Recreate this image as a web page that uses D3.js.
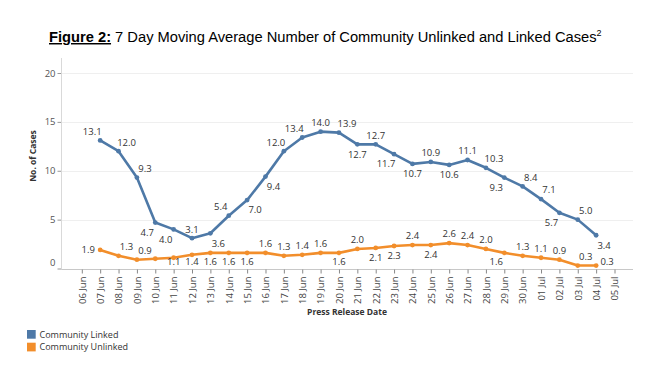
<!DOCTYPE html>
<html><head><meta charset="utf-8">
<script src="https://cdn.jsdelivr.net/npm/d3@7"></script>
<style>
body{margin:0;background:#fff;}
svg{display:block;}
</style></head>
<body>
<svg id="chart" width="651" height="377"></svg>
<script>
const categories = ["06 Jun","07 Jun","08 Jun","09 Jun","10 Jun","11 Jun","12 Jun","13 Jun","14 Jun","15 Jun","16 Jun","17 Jun","18 Jun","19 Jun","20 Jun","21 Jun","22 Jun","23 Jun","24 Jun","25 Jun","26 Jun","27 Jun","28 Jun","29 Jun","30 Jun","01 Jul","02 Jul","03 Jul","04 Jul","05 Jul"];
const dataDates = categories.slice(1, 29);
const linked = [13.1,12.0,9.3,4.7,4.0,3.1,3.6,5.4,7.0,9.4,12.0,13.4,14.0,13.9,12.7,12.7,11.7,10.7,10.9,10.6,11.1,10.3,9.3,8.4,7.1,5.7,5.0,3.4];
const unlinked = [1.9,1.3,0.9,1.0,1.1,1.4,1.6,1.6,1.6,1.6,1.3,1.4,1.6,1.6,2.0,2.1,2.3,2.4,2.4,2.6,2.4,2.0,1.6,1.3,1.1,0.9,0.3,0.3];
const linkedLabelPos = ["tl","tr","tr","bl","bl","t","br","tl","br","br","tl","tl","t","tr","b","t","bl","b","t","b","t","tr","bl","tr","tr","bl","tr","br"];
const unlinkedLabelPos = ["l","tr","tr","","b","b","b","b","b","t","t","t","t","b","t","b","b","t","b","t","t","t","bl","t","t","t","tr","r"];
const yTicks = [0,5,10,15,20];
const seriesNames = ["Community Linked","Community Unlinked"];
const colors = ["#4e79a7","#f28e2b"];

const svg = d3.select("#chart");
const x = d3.scalePoint().domain(categories).range([81.8, 614.5]);
const y = d3.scaleLinear().domain([0,20]).range([268.5, 73]);
const plotLeft = 61.5, plotRight = 633, plotTop = 58;
const font = "'Open Sans', 'Noto Sans', sans-serif";

// Title
const title = svg.append("text").attr("x",49).attr("y",42)
  .attr("font-family","'Liberation Sans', Arial, sans-serif").attr("font-size",14.7).attr("fill","#000");
title.append("tspan").attr("font-weight","bold").attr("text-decoration","underline").text("Figure 2:");
title.append("tspan").text(" 7 Day Moving Average Number of Community Unlinked and Linked Cases");
title.append("tspan").attr("font-size",9).attr("dy",-6).text("2");

// gridlines
svg.append("g").selectAll("line").data(yTicks.filter(d=>d>0)).join("line")
  .attr("x1",plotLeft).attr("x2",plotRight).attr("y1",d=>Math.round(y(d))+0.5).attr("y2",d=>Math.round(y(d))+0.5)
  .attr("stroke","#efefef").attr("stroke-width",1);

// y axis
const yAxis = svg.append("g").attr("transform",`translate(${plotLeft},0)`)
  .call(d3.axisLeft(y).tickValues(yTicks).tickSize(4).tickPadding(2).tickFormat(d3.format("d")));
yAxis.select(".domain").remove();
yAxis.selectAll(".tick line").attr("stroke","#999");
yAxis.selectAll(".tick text").attr("font-family",font).attr("font-size",9.5).attr("fill","#555")
  .attr("dy",d=>d===0?"-0.35em":"0.32em");
svg.append("line").attr("x1",plotLeft).attr("x2",plotLeft).attr("y1",plotTop).attr("y2",270)
  .attr("stroke","#d9d9d9");

// x axis
svg.append("line").attr("x1",plotLeft).attr("x2",plotRight).attr("y1",269.5).attr("y2",269.5).attr("stroke","#c8c8c8");
const xAxis = svg.append("g").attr("transform","translate(0,269.5)")
  .call(d3.axisBottom(x).tickSize(4).tickSizeOuter(0));
xAxis.select(".domain").remove();
xAxis.selectAll(".tick line").attr("stroke","#888");
xAxis.selectAll(".tick text").attr("font-family",font).attr("font-size",9.5).attr("fill","#444")
  .attr("text-anchor","end").attr("transform","rotate(-90)").attr("x",-7).attr("y",0).attr("dy","0.35em");

// axis titles
svg.append("text").attr("transform","translate(36,156) rotate(-90)").attr("text-anchor","middle")
  .attr("font-family",font).attr("font-weight","bold").attr("font-size",8.5).attr("fill","#333").text("No. of Cases");
svg.append("text").attr("x",347).attr("y",315).attr("text-anchor","middle")
  .attr("font-family",font).attr("font-weight","bold").attr("font-size",8.5).attr("fill","#333").text("Press Release Date");

// series
const offsets = {t:[0,-9],b:[0,10],tl:[-8,-9],tr:[8,-9],bl:[-8,10],br:[8,10],l:[-12,0],r:[11,-3]};
const series = [
  {name:seriesNames[0], values:linked, pos:linkedLabelPos, color:colors[0]},
  {name:seriesNames[1], values:unlinked, pos:unlinkedLabelPos, color:colors[1]}
];
const line = d3.line().x((d,i)=>x(dataDates[i])).y(d=>y(d));
series.forEach(s=>{
  svg.append("path").datum(s.values).attr("d",line).attr("fill","none")
    .attr("stroke",s.color).attr("stroke-width",2.6).attr("stroke-linejoin","round");
  svg.append("g").selectAll("circle").data(s.values).join("circle")
    .attr("cx",(d,i)=>x(dataDates[i])).attr("cy",d=>y(d)).attr("r",2.4).attr("fill",s.color);
});
const labelMaxY = y(0) - 6.5;
series.forEach(s=>{
  svg.append("g").selectAll("text").data(s.values.map((v,i)=>({v,i,p:s.pos[i]})).filter(d=>d.p))
    .join("text")
    .attr("x",d=>x(dataDates[d.i])+offsets[d.p][0])
    .attr("y",d=>Math.min(labelMaxY, y(d.v)+offsets[d.p][1]))
    .attr("dy","0.35em").attr("text-anchor","middle")
    .attr("font-family",font).attr("font-size",9.5).attr("fill","#333")
    .text(d=>d3.format(".1f")(d.v));
});

// legend
const lg = svg.append("g").selectAll("g").data(seriesNames).join("g")
  .attr("transform",(d,i)=>`translate(27,${330+i*12.7})`);
lg.append("rect").attr("width",8.7).attr("height",8.7).attr("fill",(d,i)=>colors[i]);
lg.append("text").attr("x",12.5).attr("y",4.5).attr("dy","0.35em")
  .attr("font-family",font).attr("font-size",9).attr("fill","#333").text(d=>d);
</script>
</body></html>
